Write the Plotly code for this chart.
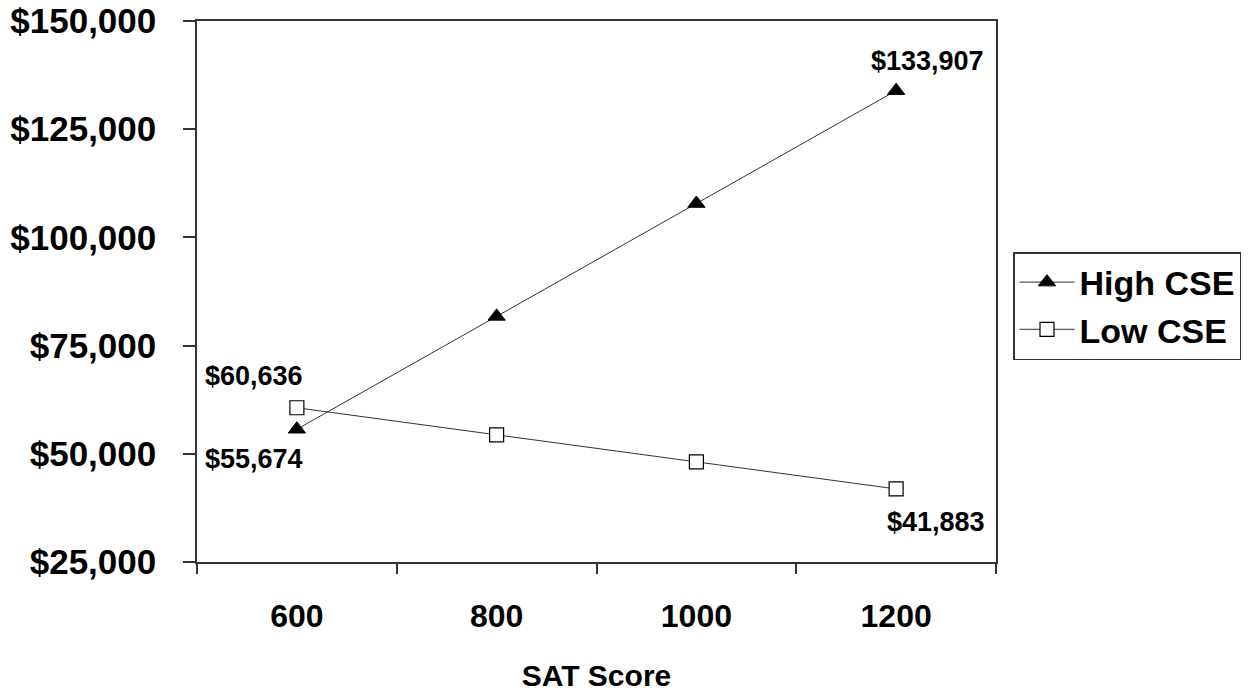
import plotly.graph_objects as go

sat_scores = ["600", "800", "1000", "1200"]
high_cse = [55674, 81752, 107829, 133907]
low_cse = [60636, 54385, 48134, 41883]
y_ticks = [25000, 50000, 75000, 100000, 125000, 150000]
y_tick_labels = ["$25,000", "$50,000", "$75,000", "$100,000", "$125,000", "$150,000"]

FONT = "Liberation Sans, Arial, sans-serif"

fig = go.Figure()
fig.add_trace(go.Scatter(
    x=sat_scores, y=high_cse, name="High CSE", mode="lines+markers",
    line=dict(color="#333333", width=1),
    marker=dict(symbol="triangle-up", size=15, color="black", line=dict(color="black", width=1)),
))
fig.add_trace(go.Scatter(
    x=sat_scores, y=low_cse, name="Low CSE", mode="lines+markers",
    line=dict(color="#333333", width=1),
    marker=dict(symbol="square", size=14, color="white", line=dict(color="black", width=1.2)),
))

def fmt(v):
    return "${:,}".format(v)

lab_font = dict(family=FONT, size=27, color="black")
last = len(sat_scores) - 1
fig.add_annotation(x=0, y=low_cse[0], text="<b>" + fmt(low_cse[0]) + "</b>",
                   showarrow=False, xanchor="right", yanchor="middle", xshift=8, yshift=32, font=lab_font)
fig.add_annotation(x=0, y=high_cse[0], text="<b>" + fmt(high_cse[0]) + "</b>",
                   showarrow=False, xanchor="right", yanchor="middle", xshift=8, yshift=-30, font=lab_font)
fig.add_annotation(x=last, y=high_cse[last], text="<b>" + fmt(high_cse[last]) + "</b>",
                   showarrow=False, xanchor="left", yanchor="middle", xshift=-27, yshift=30, font=lab_font)
fig.add_annotation(x=last, y=low_cse[last], text="<b>" + fmt(low_cse[last]) + "</b>",
                   showarrow=False, xanchor="left", yanchor="middle", xshift=-11, yshift=-33, font=lab_font)

fig.update_layout(
    width=1248, height=696,
    margin=dict(l=197, r=252, t=21, b=134),
    paper_bgcolor="white", plot_bgcolor="white",
    font=dict(family=FONT, color="black"),
    showlegend=True,
    legend=dict(
        xref="container", yref="container",
        x=1013 / 1248, y=1 - 252 / 696, xanchor="left", yanchor="top",
        bordercolor="#333333", borderwidth=1.5, bgcolor="white",
        font=dict(family=FONT, size=34, color="black", weight="bold"),
        tracegroupgap=0, itemwidth=55,
    ),
    xaxis=dict(
        type="category", range=[-0.5, 3.5], automargin=False,
        showline=True, linecolor="#333333", linewidth=1.5, mirror=True,
        ticks="outside", tickson="boundaries", ticklen=10, tickcolor="#333333", tickwidth=1.5,
        showgrid=False, zeroline=False,
        tickfont=dict(family=FONT, size=32, color="black", weight="bold"),
        ticklabelstandoff=25,
        title=dict(text="<b>SAT Score</b>", font=dict(family=FONT, size=30, color="black"), standoff=32),
    ),
    yaxis=dict(
        range=[25000, 150000], automargin=False,
        tickvals=y_ticks, ticktext=["<b>" + t + "</b>" for t in y_tick_labels],
        showline=True, linecolor="#333333", linewidth=1.5, mirror=True,
        ticks="outside", ticklen=12, tickcolor="#333333", tickwidth=1.5,
        showgrid=False, zeroline=False,
        tickfont=dict(family=FONT, size=35, color="black"),
        ticklabelstandoff=20,
    ),
)

fig.write_html("out.html", config={"displayModeBar": False},
               post_script="document.body.style.margin='0px';document.body.style.overflow='hidden';")
